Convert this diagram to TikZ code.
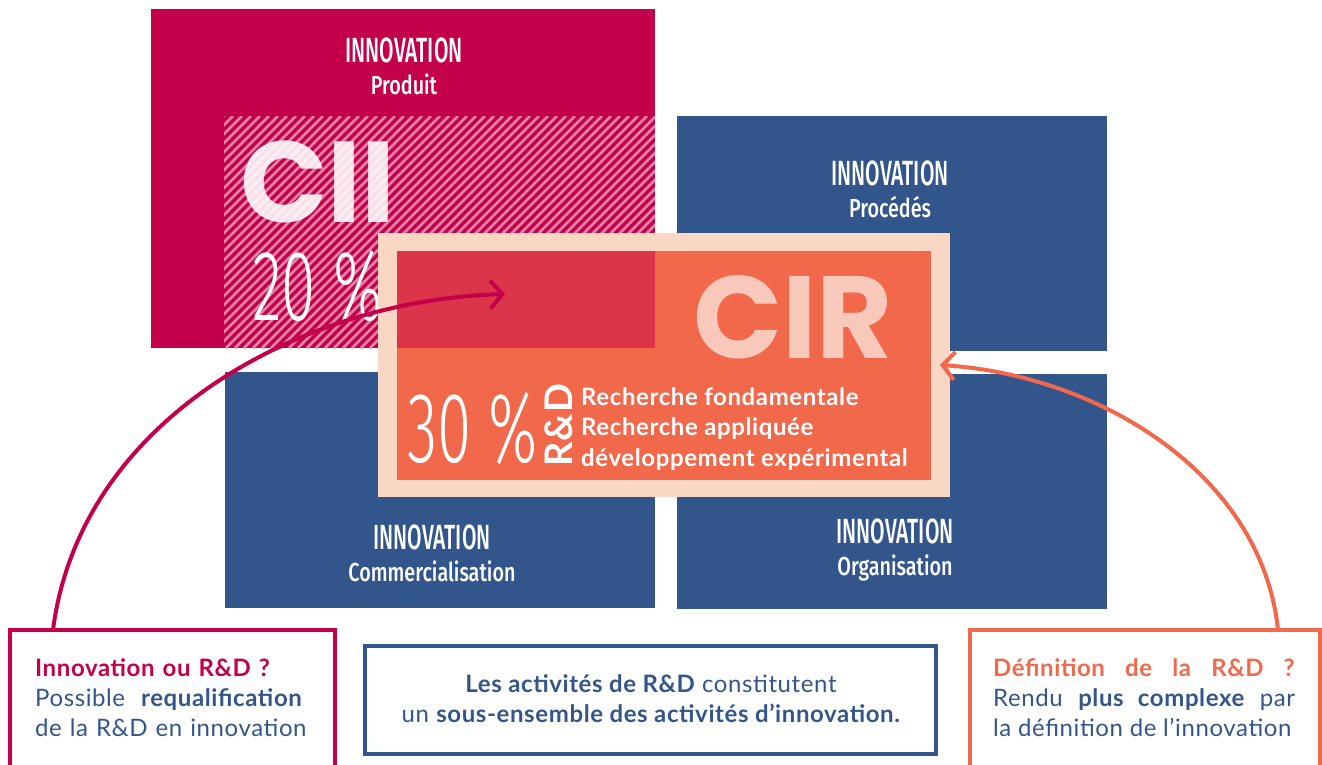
\documentclass[tikz,border=0pt]{standalone}
\usepackage{fontspec}
\usepackage{graphicx}
\setmainfont{Lato}[LetterSpace=2.5]
\newfontfamily\geofont{Poppins}
\IfFontExistsTF{Fira Sans Medium}{\newfontfamily\condfont{Fira Sans Medium}}{\newfontfamily\condfont{Fira Sans Bold}}
\IfFontExistsTF{Fira Sans Light}{\newfontfamily\thinfont{Fira Sans Light}}{\newfontfamily\thinfont{Liberation Sans}}
\usetikzlibrary{arrows.meta}

\definecolor{crimson}{HTML}{C4004B}
\definecolor{navy}{HTML}{32568C}
\definecolor{coral}{HTML}{F1684B}
\definecolor{peach}{HTML}{FAD6C4}
\definecolor{overlap}{HTML}{DC3549}
\definecolor{cirpink}{HTML}{F8C9BA}
\definecolor{stripe}{HTML}{E283A8}

\tikzset{
  area/.style={inner sep=0pt, outer sep=0pt, draw=none, anchor=north west},
  innotitle/.style={text=white, inner sep=0pt, anchor=base, xscale=0.6,
    font=\condfont\fontsize{35}{35}\selectfont},
  innosub/.style={text=white, inner sep=0pt, anchor=base, xscale=0.76,
    font=\condfont\fontsize{26}{26}\selectfont},
  bigword/.style={inner sep=0pt, anchor=base west, text depth=0pt,
    font=\geofont\bfseries\fontsize{115}{115}\selectfont},
  percent/.style={text=white, inner sep=0pt, anchor=base west, xscale=0.62,
    font=\thinfont\fontsize{100}{100}\selectfont},
  notebox/.style={draw, line width=4pt, inner sep=0pt, outer sep=0pt, anchor=north west},
  notetext/.style={text=navy, inner sep=0pt, font=\fontsize{24}{30}\selectfont},
}

\begin{document}
\begin{tikzpicture}[x=1pt, y=-1pt]
    \useasboundingbox (0,0) rectangle (1322,764);

    % the four kinds of innovation
    \begin{scope}[every node/.style={area}]
        \node[fill=crimson, minimum width=504, minimum height=339] (produit) at (151,9) {};
        \node[fill=navy, minimum width=430, minimum height=235] (procedes) at (677,116) {};
        \node[fill=navy, minimum width=430, minimum height=236] (commerce) at (225,372) {};
        \node[fill=navy, minimum width=430, minimum height=235] (organisation) at (677,374) {};
    \end{scope}

    % CII hatching
    \begin{scope}
        \clip (224,116) rectangle (655,348);
        \foreach \a in {-8,1,...,660}
            \draw[stripe, line width=2.5pt] (\a,348) -- ++(232,-232);
    \end{scope}

    \node[innotitle] (produittitle) at (404,62) {INNOVATION};
    \node[innosub] (produitsub) at (404,94) {Produit};
    \node[innotitle] (procedestitle) at (890,185) {INNOVATION};
    \node[innosub] (procedessub) at (890,217) {Procédés};
    \node[innotitle] (commercetitle) at (432,549) {INNOVATION};
    \node[innosub] (commercesub) at (432,581) {Commercialisation};
    \node[innotitle] (organisationtitle) at (895,543) {INNOVATION};
    \node[innosub] (organisationsub) at (895,575) {Organisation};

    \node[bigword, text=white, text opacity=0.88] (cii) at (240,222) {CII};
    \node[percent] (ciirate) at (252,320) {20 \%};

    % CIR
    \begin{scope}[every node/.style={area}]
        \node[fill=peach, minimum width=572, minimum height=264] (cirframe) at (378,233) {};
        \node[fill=coral, minimum width=534, minimum height=229] (cirbox) at (397,251) {};
        \node[fill=overlap, minimum width=258, minimum height=97] (cirshared) at (397,251) {};
    \end{scope}
    \node[bigword, text=cirpink, font=\geofont\bfseries\fontsize{117}{117}\selectfont] (cir) at (693,358) {CIR};
    \node[percent] (cirrate) at (407,462) {30 \%};
    \node[inner sep=0pt, anchor=base west, rotate=90, text=white,
        font=\bfseries\fontsize{38}{38}\selectfont] (rd) at (572,467) {R\&D};
    \node[inner sep=0pt, anchor=base west, text=white, align=left,
        font=\bfseries\fontsize{24}{30.5}\selectfont] (cirscope) at (581,466)
        {Recherche fondamentale\\Recherche appliquée\\développement expérimental};

    % notes
    \node[notebox, draw=crimson, minimum width=324.5, minimum height=200] (qleft) at (10,630) {};
    \node[notebox, draw=navy, minimum width=571, minimum height=108] (summarybox) at (365,646) {};
    \node[notebox, draw=coral, minimum width=350, minimum height=200] (qright) at (969.5,630) {};

    \node[notetext, anchor=base west, text width=300, align=left] (qlefttext) at (35,676)
        {\textcolor{crimson}{\textbf{Innovation ou R\&D ?}}\\Possible\ \ \textbf{requalification}\\de la R\&D en innovation};
    \node[notetext, anchor=base, align=center] (summary) at (651,722)
        {\textbf{Les activités de R\&D} constitutent\\un \textbf{sous-ensemble des activités d’innovation.}};
    \node[notetext, anchor=base west, text width=302, align=justify] (qrighttext) at (993,676)
        {\textcolor{coral}{\textbf{Définition de la R\&D~?}}\linebreak Rendu \textbf{plus complexe} par\linebreak la définition de l’innovation};

    % links
    \coordinate (crimsonfoot) at (53,630);
    \coordinate (crimsontip) at (505,294);
    \coordinate (coralfoot) at (1278,630);
    \coordinate (coraltip) at (940,365);
    \begin{scope}[>={Straight Barb[length=12pt,width=28pt]}, line width=4pt]
        \draw[->, crimson] (crimsonfoot) .. controls (80,420) and (300,300) .. (crimsontip);
        \draw[->, coral] (coralfoot) .. controls (1262,475) and (1100,375) .. (coraltip);
    \end{scope}
\end{tikzpicture}
\end{document}
